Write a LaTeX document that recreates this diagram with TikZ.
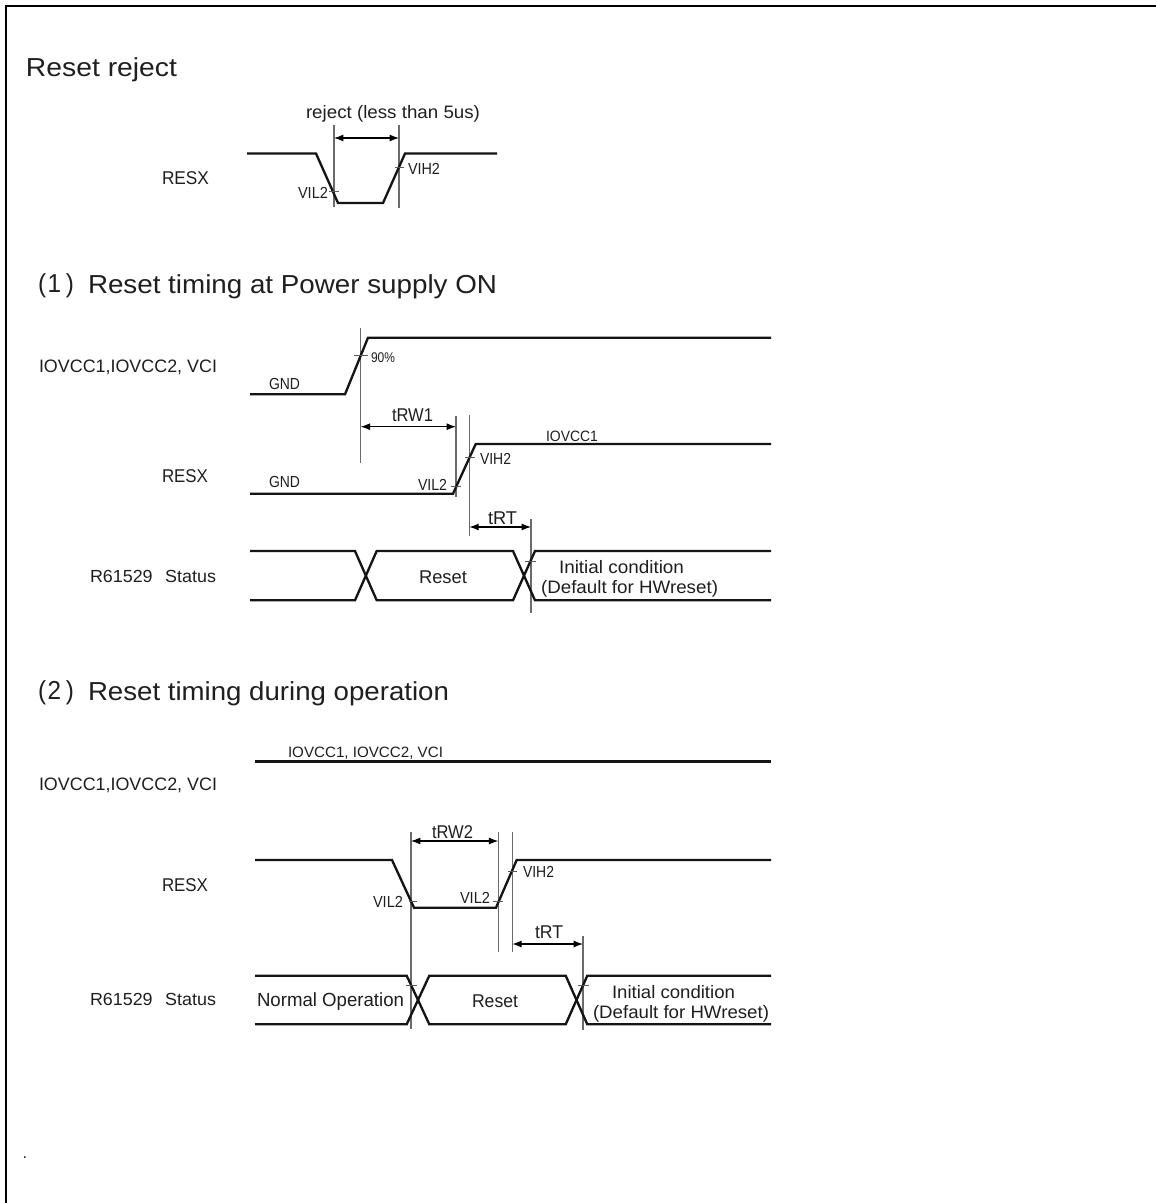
\documentclass[tikz,border=0pt]{standalone}
\usepackage{fontspec}
\usepackage{graphicx}
\setmainfont{Liberation Sans}
\usetikzlibrary{arrows.meta}
\newdimen\pxu \pxu=0.75pt
% \lab{name}{x-left}{y-centre}{width}{size px}{text}
\newcommand\lab[6]{\node[lbl] (#1) at (#2,{#3+0.36*#5}) {\fontsize{\fpeval{#5*0.75}}{\fpeval{#5*0.9}}\selectfont\resizebox{#4\pxu}{\height}{#6}};}
\ExplSyntaxOn
\cs_if_exist:NF \fpeval { \cs_new:Npn \fpeval #1 { \fp_eval:n {#1} } }
\ExplSyntaxOff
\tikzset{
  lbl/.style={anchor=base west,inner sep=0pt,outer sep=0pt,text=black!88},
  sig/.style={line width=1.75pt,black!92,line join=miter},
  guide/.style={line width=0.9pt,black!58},
  tickm/.style={line width=0.5pt,black!65},
  dimen/.style={line width=0.8pt,black,{Latex[length=7pt,width=5.2pt]}-{Latex[length=7pt,width=5.2pt]}},
  frameline/.style={line width=1.6pt,black}
}
\begin{document}
\begin{tikzpicture}[x=0.75pt,y=-0.75pt]
\useasboundingbox (0,0) rectangle (1156,1203);
\fill[white] (0,0) rectangle (1156,1203);
\draw[frameline] (6,1203) -- (6,6) -- (1156,6);

% ---------- Reset reject
\lab{t0}{26}{67}{151}{26}{Reset reject}
\lab{r0}{162}{178}{47}{18.5}{RESX}
\lab{rej}{306}{112}{174}{18}{reject (less than 5us)}
\lab{a1}{298}{193}{30}{16}{VIL2}
\lab{a2}{408}{169}{32}{16}{VIH2}
\draw[guide] (334,125) -- (334,207);
\draw[guide] (399,125) -- (399,208);
\draw[sig] (247,153.5) -- (316,153.5) -- (338,203) -- (383,203) -- (405,153.5) -- (497,153.5);
\draw[tickm] (329,191.5) -- (339,191.5);
\draw[tickm] (395,167) -- (404,167);
\coordinate (d0a) at (334,138); \coordinate (d0b) at (399,138);
\draw[dimen] (d0a) -- (d0b);

% ---------- (1)
\lab{t1p}{38}{283}{36}{26}{(\hspace{.06em}1\hspace{.2em})}
\lab{t1}{88}{284}{409}{26}{Reset timing at Power supply ON}
\lab{p1}{39}{366}{178}{18}{IOVCC1,IOVCC2, VCI}
\lab{p2}{162}{476}{46}{18.5}{RESX}
\lab{p3}{90}{576}{126}{17.5}{R61529\hspace{.7em}Status}
\lab{g1}{269}{384}{31}{16}{GND}
\lab{g2}{269}{482}{31}{16}{GND}
\lab{n90}{371}{357}{24}{14}{90\%}
\lab{io}{546}{436}{52}{15}{IOVCC1}
\lab{vh}{480}{459}{31}{16}{VIH2}
\lab{vl}{418}{485}{29}{16}{VIL2}
\lab{trw1}{392}{415}{41}{18.5}{tRW1}
\lab{trt1}{488}{518}{29}{18.5}{tRT}
\lab{rs1}{419}{577}{48}{18.5}{Reset}
\lab{ic1}{559}{567}{125}{18}{Initial condition}
\lab{df1}{541}{587}{177}{18}{(Default for HWreset)}
\draw[guide] (360.7,328) -- (360.7,463);
\draw[guide] (456,416) -- (456,497);
\draw[guide] (469.3,415) -- (469.3,536);
\draw[guide] (531,519) -- (531,613);
\draw[sig] (250,394.3) -- (345,394.3) -- (368,337.7) -- (771,337.7);
\draw[sig] (250,493.7) -- (453,493.7) -- (475.7,444) -- (771,444);
\draw[sig] (250,551) -- (355,551) -- (376.7,600.3) -- (513,600.3) -- (535,551) -- (771,551);
\draw[sig] (250,600.3) -- (355,600.3) -- (376.7,551) -- (513,551) -- (535,600.3) -- (771,600.3);
\draw[tickm] (354,355) -- (368,355);
\draw[tickm] (465,457) -- (475,457);
\draw[tickm] (451,486) -- (461,486);
\draw[tickm] (525,561) -- (536,561);
\coordinate (d1a) at (360.7,426.7); \coordinate (d1b) at (456,426.7);
\coordinate (d2a) at (469.3,527); \coordinate (d2b) at (531,527);
\draw[dimen] (d1a) -- (d1b);
\draw[dimen] (d2a) -- (d2b);

% ---------- (2)
\lab{t2p}{38}{690}{36}{26}{(\hspace{.06em}2\hspace{.2em})}
\lab{t2}{88}{691}{361}{26}{Reset timing during operation}
\lab{q1}{39}{784}{178}{18}{IOVCC1,IOVCC2, VCI}
\lab{q2}{162}{885}{46}{18.5}{RESX}
\lab{q3}{90}{999}{126}{17.5}{R61529\hspace{.7em}Status}
\lab{q4}{288}{752}{155}{15}{IOVCC1, IOVCC2, VCI}
\lab{trw2}{432}{832}{41}{18.5}{tRW2}
\lab{trt2}{535}{932}{28}{18.5}{tRT}
\lab{vl2a}{373}{902}{30}{16}{VIL2}
\lab{vl2b}{460}{898}{30}{16}{VIL2}
\lab{vh2}{523}{872}{31}{16}{VIH2}
\lab{no}{257}{1000}{147}{19}{Normal Operation}
\lab{rs2}{472}{1001}{46}{18.5}{Reset}
\lab{ic2}{612}{992}{123}{18}{Initial condition}
\lab{df2}{593}{1012}{176}{18}{(Default for HWreset)}
\draw[guide] (411,832) -- (411,1029);
\draw[guide] (498.3,832) -- (498.3,952);
\draw[guide] (512.3,832) -- (512.3,952);
\draw[guide] (583,936) -- (583,1030);
\draw[sig] (255,761.5) -- (771,761.5);
\draw[sig] (255,860) -- (392,860) -- (414,907.7) -- (496,907.7) -- (516.7,860) -- (771,860);
\draw[sig] (255,975.7) -- (406.7,975.7) -- (429.3,1024.3) -- (565.7,1024.3) -- (587.3,975.7) -- (771,975.7);
\draw[sig] (255,1024.3) -- (406.7,1024.3) -- (429.3,975.7) -- (565.7,975.7) -- (587.3,1024.3) -- (771,1024.3);
\draw[tickm] (409,901) -- (417,901);
\draw[tickm] (493,901) -- (503,901);
\draw[tickm] (508,871) -- (517,871);
\draw[tickm] (406,985) -- (417,985);
\draw[tickm] (578,985) -- (589,985);
\coordinate (d3a) at (411,841); \coordinate (d3b) at (498.3,841);
\coordinate (d4a) at (512.3,944); \coordinate (d4b) at (583,944);
\draw[dimen] (d3a) -- (d3b);
\draw[dimen] (d4a) -- (d4b);

\node[lbl] (dot) at (22.5,1158) {\fontsize{12}{14}\selectfont .};
\end{tikzpicture}
\end{document}
